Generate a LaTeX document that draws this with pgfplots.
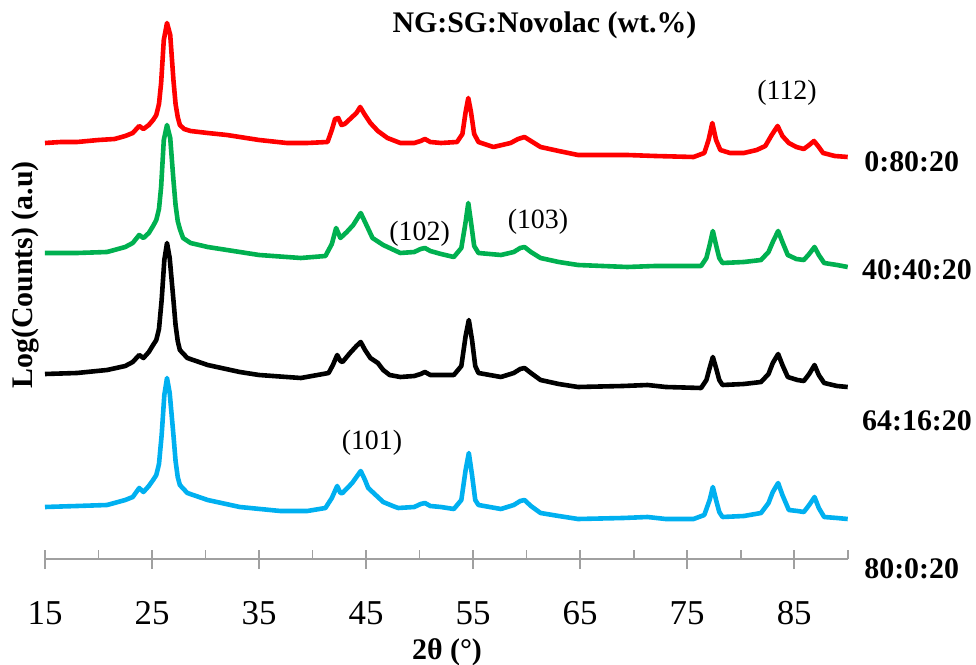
\documentclass[border=0pt]{standalone}
\usepackage{fontspec}
\setmainfont{Liberation Serif}
\usepackage{pgfplots}
\pgfplotsset{compat=1.18}
\definecolor{xred}{RGB}{255,0,0}
\definecolor{xgreen}{RGB}{0,176,80}
\definecolor{xblue}{RGB}{0,176,240}
\definecolor{axgray}{RGB}{160,160,160}

% offset traces, y = height above the axis line (arbitrary units)
\pgfplotstableread{
x y
15.0 416
16.5 417
18.0 417
20.0 419
21.5 420
22.5 423
23.2 426
23.8 433
24.2 430
24.7 434
25.1 439
25.4 444
25.65 455
25.85 476
26.1 519
26.4 536
26.7 524
27.0 479
27.2 455
27.4 442
27.6 434
28.0 430
28.6 428
30.2 426
32.0 424
33.2 422
35.0 419
37.6 416
39.5 416
41.4 417
41.8 429
42.1 440
42.4 441
42.7 434
43.0 435
43.6 441
44.1 446
44.45 452
44.9 444
45.4 436
46.1 428
47.0 421
48.2 416
49.5 416
50.1 418
50.5 420
51.0 417
52.0 416
53.5 417
54.0 425
54.3 447
54.55 461
54.8 447
55.1 425
55.5 417
56.9 412
58.5 416
59.2 420
59.8 422
60.4 418
61.3 412
63.0 408
64.8 404
67.0 404
69.4 404
72.0 403
75.6 402
76.6 406
77.0 419
77.35 436
77.7 419
78.1 409
79.0 406
80.3 406
81.5 409
82.3 413
82.9 424
83.45 433
83.9 423
84.5 416
85.2 412
85.9 410
86.4 414
86.85 418
87.3 412
87.7 406
88.8 403
90.0 402
}\tredA

\pgfplotstableread{
x y
15.0 306
18.0 306
20.8 307
22.5 312
23.2 316
23.8 324
24.2 321
24.7 326
25.1 333
25.4 339
25.65 350
25.85 372
26.1 419
26.4 434
26.7 421
27.0 379
27.2 354
27.4 338
27.6 330
27.9 321
28.6 316
30.2 312
33.2 307
35.0 304
38.9 301
41.2 303
41.8 315
42.2 331
42.6 321
43.2 327
43.8 334
44.5 346
44.9 337
45.6 321
46.6 314
48.2 306
49.5 307
50.1 310
50.5 311
51.0 308
52.0 305
53.2 302
53.9 311
54.3 337
54.55 356
54.8 337
55.1 313
55.5 306
57.6 304
58.8 307
59.4 311
59.8 312
60.4 307
61.3 301
63.0 297
64.8 294
69.4 292
72.0 293
76.3 293
76.8 301
77.1 314
77.4 328
77.7 314
78.0 301
78.3 296
80.3 297
81.9 299
82.6 307
83.0 317
83.5 328
83.9 317
84.4 304
85.2 300
85.9 299
86.4 305
86.9 312
87.3 304
87.8 296
89.0 294
90.0 292
}\tgreenB

\pgfplotstableread{
x y
15.0 185
18.0 186
20.8 189
22.5 193
23.2 197
23.8 204
24.2 201
24.7 207
25.1 214
25.4 219
25.65 230
25.9 259
26.15 299
26.4 316
26.65 301
27.0 259
27.2 234
27.4 218
27.6 209
28.3 201
30.2 194
33.2 187
35.0 184
38.9 181
41.5 186
41.9 194
42.3 204
42.6 198
42.8 197
43.5 206
44.1 213
44.5 217
44.9 209
45.4 201
46.1 196
46.6 189
47.2 184
48.2 182
49.5 183
50.1 185
50.5 187
51.0 184
52.0 184
53.2 184
53.9 193
54.3 223
54.6 239
54.9 219
55.2 193
55.5 186
57.6 182
58.8 186
59.4 190
59.8 191
60.4 186
61.3 179
63.0 175
64.8 172
69.0 173
71.3 174
73.0 172
76.3 171
76.8 179
77.1 191
77.4 202
77.7 191
78.0 179
78.3 174
80.3 175
81.9 177
82.6 185
83.0 196
83.5 205
83.9 194
84.4 182
85.3 179
85.9 178
86.4 185
86.9 194
87.3 184
87.8 176
89.0 173
90.0 172
}\tblackC

\pgfplotstableread{
x y
15.0 52
18.0 53
20.8 54
22.5 59
23.2 62
23.8 71
24.2 67
24.7 73
25.1 79
25.4 84
25.65 95
25.9 124
26.15 164
26.4 181
26.65 166
27.0 124
27.2 98
27.4 82
27.6 74
28.3 66
30.2 59
33.2 52
37.0 48
39.5 48
41.2 51
41.8 61
42.3 73
42.6 66
42.8 66
43.7 76
44.1 82
44.5 88
44.9 79
45.2 71
45.7 66
46.6 57
47.5 53
48.0 51
49.5 52
50.1 55
50.5 56
51.0 53
52.0 52
53.2 50
53.9 59
54.3 89
54.6 106
54.9 84
55.2 59
55.5 54
57.6 50
58.8 54
59.4 58
59.8 59
60.4 53
61.3 46
63.0 43
64.8 40
69.0 41
71.3 42
73.0 40
75.6 40
76.6 44
77.1 59
77.4 72
77.7 59
78.0 47
78.3 42
80.3 43
81.9 46
82.6 56
83.0 67
83.5 76
83.9 64
84.5 49
85.3 48
85.9 47
86.4 54
86.9 62
87.3 51
87.8 42
89.0 41
90.0 40
}\tblueD

\begin{document}
\begin{tikzpicture}
\path[use as bounding box] (-22.5bp,-53bp) rectangle (465.5bp,279.5bp);
\begin{axis}[
  at={(0,0)}, anchor=south west,
  scale only axis, width=401.35bp, height=274.5bp,
  xmin=15, xmax=90, ymin=0, ymax=549,
  axis x line=bottom, axis y line=none,
  axis line style={draw=axgray, line width=0.85bp, -},
  xtick={15,25,...,85},
  minor xtick={20,30,...,90},
  tick align=inside,
  major tick length=9.7bp, minor tick length=4.5bp,
  tick style={draw=axgray, line width=0.85bp},
  every major tick/.append style={yshift=-5bp},
  /pgf/number format/assume math mode=true,
  xticklabel style={font=\fontsize{17.5}{20}\selectfont, anchor=center, yshift=-27bp},
  clip=false,
  every axis plot/.append style={line width=2.3bp, line join=round, no markers},
]
\addplot[xred] table {\tredA};
\addplot[xgreen] table {\tgreenB};
\addplot[black] table {\tblackC};
\addplot[xblue] table {\tblueD};

\node[font=\fontsize{15}{18}\selectfont\bfseries] at (axis cs:61.67,534) {NG:SG:Novolac (wt.\%)};
\node[font=\fontsize{15}{18}\selectfont\bfseries] at (axis cs:52.56,-93) {2θ (°)};
\node[font=\fontsize{15}{18}\selectfont\bfseries, rotate=90] at (axis cs:13.13,284) {Log(Counts) (a.u)};

\node[font=\fontsize{15}{18}\selectfont\bfseries, anchor=west] at (axis cs:90.9,397) {0:80:20};
\node[font=\fontsize{15}{18}\selectfont\bfseries, anchor=west] at (axis cs:90.7,289) {40:40:20};
\node[font=\fontsize{15}{18}\selectfont\bfseries, anchor=west] at (axis cs:90.7,138) {64:16:20};
\node[font=\fontsize{15}{18}\selectfont\bfseries, anchor=west] at (axis cs:90.9,-10) {80:0:20};

\node[font=\fontsize{14}{16}\selectfont] at (axis cs:84.33,466) {(112)};
\node[font=\fontsize{14}{16}\selectfont] at (axis cs:50.0,325) {(102)};
\node[font=\fontsize{14}{16}\selectfont] at (axis cs:61.06,337) {(103)};
\node[font=\fontsize{14}{16}\selectfont] at (axis cs:45.55,116) {(101)};
\end{axis}
\end{tikzpicture}
\end{document}
